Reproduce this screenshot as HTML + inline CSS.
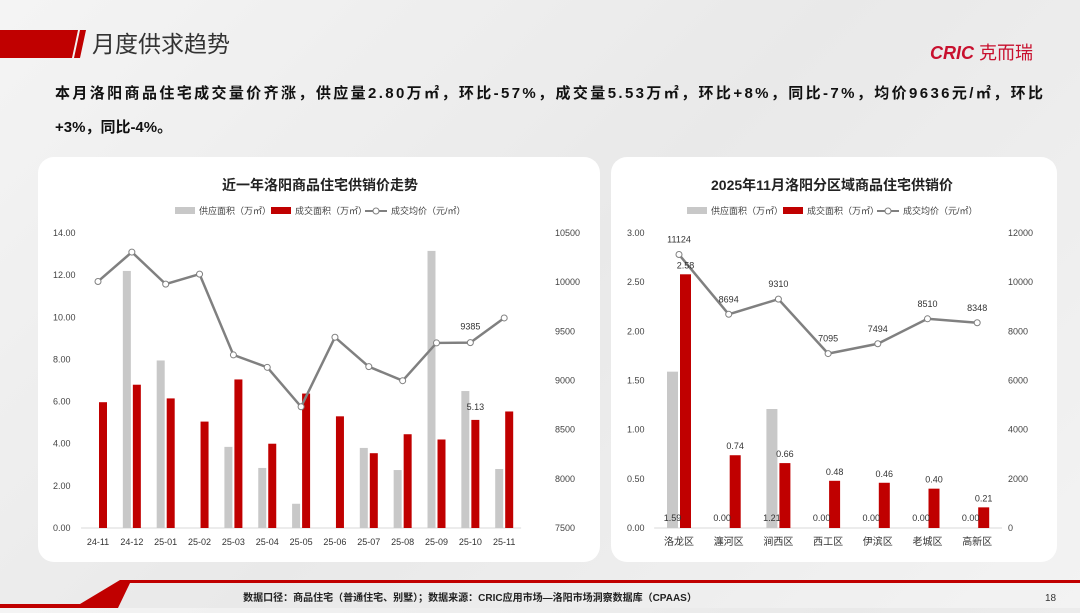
<!DOCTYPE html>
<html><head><meta charset="utf-8">
<style>
body{margin:0;width:1080px;height:608px;overflow:hidden;font-family:"Liberation Sans","Noto Sans CJK SC",sans-serif;background:linear-gradient(135deg,#f4f4f4,#e9e9e9 50%,#f3f3f3);}
svg text{font-family:"Liberation Sans","Noto Sans CJK SC",sans-serif;}
</style></head><body>
<svg id="s" width="1080" height="608" xmlns="http://www.w3.org/2000/svg">
<polygon points="0,30 78,30 72,58 0,58" fill="#c00000"/>
<polygon points="80,30 86,30 80,58 74,58" fill="#c00000"/>
<text x="92" y="52" font-size="23" fill="#333">月度供求趋势</text>
<text x="930" y="59" font-size="18" font-weight="bold" font-style="italic" fill="#c8102e">CRIC<tspan font-style="normal" font-weight="normal" fill="#c8102e"> 克而瑞</tspan></text>
<text x="55" y="98" font-size="15" font-weight="bold" fill="#111" textLength="988" lengthAdjust="spacing">本月洛阳商品住宅成交量价齐涨，供应量2.80万㎡，环比-57%，成交量5.53万㎡，环比+8%，同比-7%，均价9636元/㎡，环比</text>
<text x="55" y="132" font-size="15" font-weight="bold" fill="#111">+3%，同比-4%。</text>
<rect x="38" y="157" width="562" height="405" rx="16" fill="#fff"/>
<rect x="611" y="157" width="446" height="405" rx="16" fill="#fff"/>
<g id="L"></g><g id="R"></g>
<polygon points="0,608 0,604 80,604 120,580 1080,580 1080,583 130,583 118,608" fill="#c00000"/>
<text x="470" y="601" font-size="10" font-weight="bold" fill="#222" text-anchor="middle">数据口径：商品住宅（普通住宅、别墅）；数据来源：CRIC应用市场—洛阳市场洞察数据库（CPAAS）</text>
<text x="1045" y="601" font-size="10" fill="#333">18</text>
</svg>
<script>
const lCats=["24-11","24-12","25-01","25-02","25-03","25-04","25-05","25-06","25-07","25-08","25-09","25-10","25-11"];
const lSupply=[0,12.2,7.95,0,3.85,2.85,1.15,0,3.8,2.75,13.15,6.5,2.8];
const lSales=[5.97,6.8,6.15,5.05,7.05,4.0,6.38,5.3,3.55,4.45,4.2,5.13,5.53];
const lPrice=[10007,10306,9980,10082,9260,9134,8733,9440,9141,8998,9382,9385,9636];
const lLeftTicks=["0.00","2.00","4.00","6.00","8.00","10.00","12.00","14.00"];
const lRightTicks=["7500","8000","8500","9000","9500","10000","10500"];
const rCats=["洛龙区","瀍河区","涧西区","西工区","伊滨区","老城区","高新区"];
const rSupply=[1.59,0,1.21,0,0,0,0];
const rSales=[2.58,0.74,0.66,0.48,0.46,0.40,0.21];
const rPrice=[11124,8694,9310,7095,7494,8510,8348];
const rLeftTicks=["0.00","0.50","1.00","1.50","2.00","2.50","3.00"];
const rRightTicks=["0","2000","4000","6000","8000","10000","12000"];
const NS="http://www.w3.org/2000/svg";
function mk(p,t,a,txt){const e=document.createElementNS(NS,t);for(const k in a)e.setAttribute(k,a[k]);if(txt!==undefined)e.textContent=txt;p.appendChild(e);return e;}
function chart(g,o){
 const y0=528,y1=233;
 const yl=v=>y0-(v-o.lmin)/(o.lmax-o.lmin)*(y0-y1);
 const yr=v=>y0-(v-o.rmin)/(o.rmax-o.rmin)*(y0-y1);
 const xc=i=>o.x0+i*o.step;
 let t=mk(g,'text',{x:o.cx,y:190,'font-size':14,'font-weight':'bold','text-anchor':'middle',fill:'#222'},o.title);
 
 const lg=mk(g,'g',{});
 let lx=o.cx-145;
 mk(lg,'rect',{x:lx,y:207,width:20,height:7,fill:'#c8c8c8'});mk(lg,'text',{x:lx+24,y:214,'font-size':9,fill:'#444'},'供应面积（万㎡）');
 mk(lg,'rect',{x:lx+96,y:207,width:20,height:7,fill:'#c00000'});mk(lg,'text',{x:lx+120,y:214,'font-size':9,fill:'#444'},'成交面积（万㎡）');
 mk(lg,'line',{x1:lx+190,y1:211,x2:lx+212,y2:211,stroke:'#808080','stroke-width':2});mk(lg,'circle',{cx:lx+201,cy:211,r:3,fill:'#fff',stroke:'#808080'});
 mk(lg,'text',{x:lx+216,y:214,'font-size':9,fill:'#444'},'成交均价（元/㎡）');
 o.lt.forEach((s,i)=>{const v=o.lmin+i*(o.lmax-o.lmin)/(o.lt.length-1);const e=mk(g,'text',{x:o.lax,y:yl(v)+3,'font-size':9,fill:'#444'},s);});
 o.rt.forEach((s,i)=>{const v=o.rmin+i*(o.rmax-o.rmin)/(o.rt.length-1);const e=mk(g,'text',{x:o.rax,y:yr(v)+3,'font-size':9,fill:'#444'},s);});
 mk(g,'line',{x1:o.x0-o.step/2,y1:y0,x2:xc(o.cats.length-1)+o.step/2,y2:y0,stroke:'#d9d9d9'});
 o.cats.forEach((c,i)=>{const e=mk(g,'text',{x:xc(i),y:545,'font-size':o.cf,'text-anchor':'middle',fill:'#333'},c);});
 o.sup.forEach((v,i)=>{const e=mk(g,'rect',{x:xc(i)-o.bw-1,y:yl(v),width:o.bw,height:y0-yl(v),fill:'#c8c8c8'});});
 o.sal.forEach((v,i)=>{const e=mk(g,'rect',{x:xc(i)+1,y:yl(v),width:o.bw,height:y0-yl(v),fill:'#c00000'});});
 const pts=o.pr.map((v,i)=>xc(i)+','+yr(v)).join(' ');
 const pl=mk(g,'polyline',{points:pts,fill:'none',stroke:'#808080','stroke-width':2.5});
 
 o.pr.forEach((v,i)=>{const e=mk(g,'circle',{cx:xc(i),cy:yr(v),r:3,fill:'#fff',stroke:'#808080'});});
 if(o.labels){
  o.pr.forEach((v,i)=>{const e=mk(g,'text',{x:xc(i),y:yr(v)-12,'font-size':9,'text-anchor':'middle',fill:'#333'},String(v));});
  o.sal.forEach((v,i)=>{const e=mk(g,'text',{x:xc(i)+1+o.bw/2,y:yl(v)-6,'font-size':9,'text-anchor':'middle',fill:'#333'},v.toFixed(2));});
  o.sup.forEach((v,i)=>{const e=mk(g,'text',{x:xc(i)-o.bw/2-1,y:y0-7,'font-size':9,'text-anchor':'middle',fill:'#333'},v.toFixed(2));});
 } else {
  const i=11;
  let e=mk(g,'text',{x:xc(i),y:yr(o.pr[i])-13,'font-size':9,'text-anchor':'middle',fill:'#333'},String(o.pr[i]));
  e=mk(g,'text',{x:xc(i)+5,y:yl(o.sal[i])-10,'font-size':9,'text-anchor':'middle',fill:'#333'},o.sal[i].toFixed(2));
 }
}
chart(document.getElementById('L'),{title:'近一年洛阳商品住宅供销价走势',cx:320,cats:lCats,sup:lSupply,sal:lSales,pr:lPrice,lt:lLeftTicks,rt:lRightTicks,lmin:0,lmax:14,rmin:7500,rmax:10500,x0:98,step:33.85,bw:8,lax:53,rax:555,cf:9,labels:false});
chart(document.getElementById('R'),{title:'2025年11月洛阳分区域商品住宅供销价',cx:832,cats:rCats,sup:rSupply,sal:rSales,pr:rPrice,lt:rLeftTicks,rt:rRightTicks,lmin:0,lmax:3,rmin:0,rmax:12000,x0:679,step:49.7,bw:11,lax:627,rax:1008,cf:10,labels:true});
</script>
</body></html>
